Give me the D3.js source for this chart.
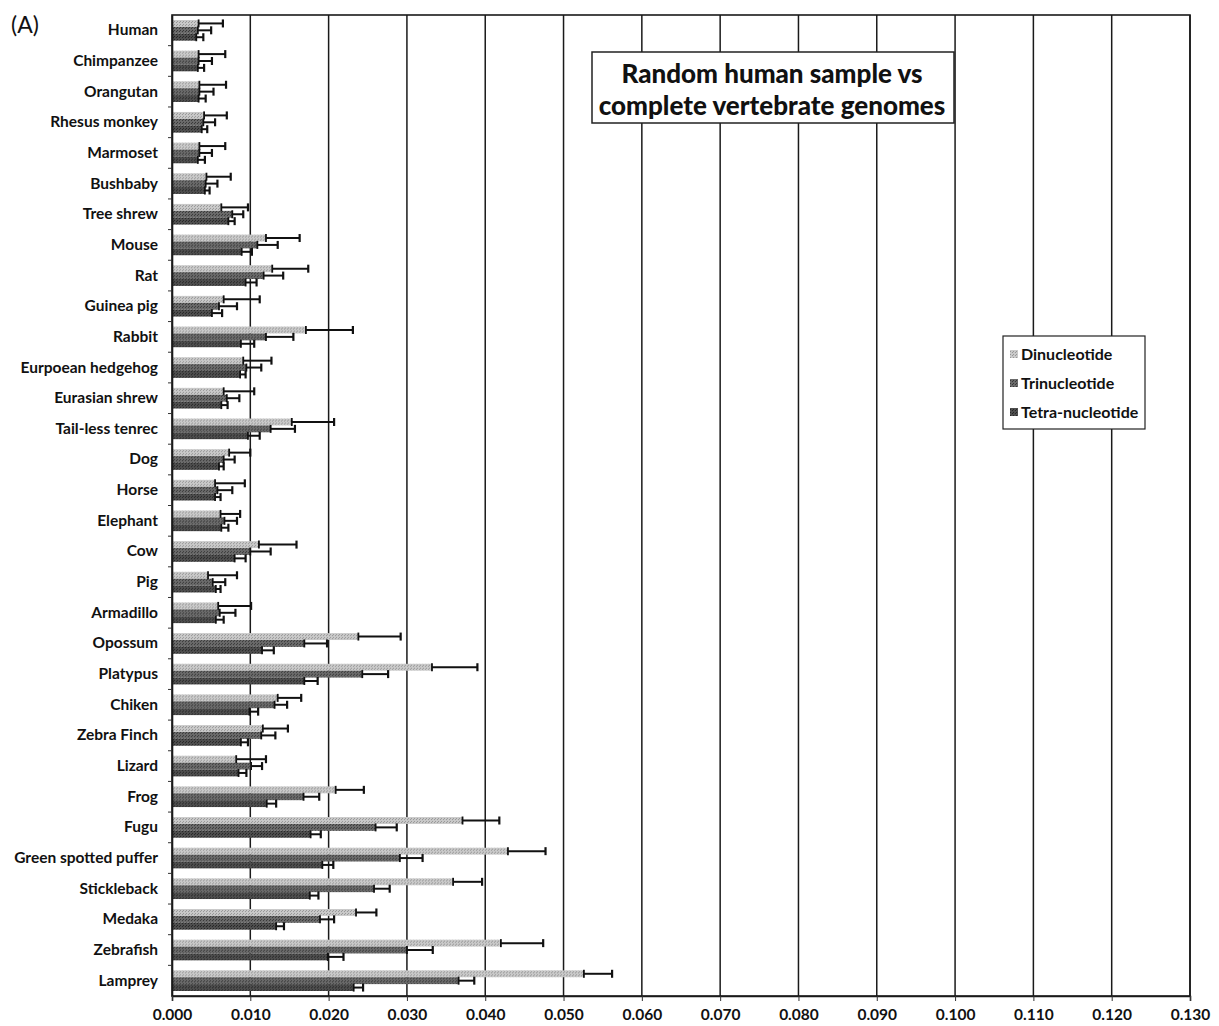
<!DOCTYPE html>
<html>
<head>
<meta charset="utf-8">
<script src="https://cdn.jsdelivr.net/npm/d3@7/dist/d3.min.js"></script>
<style>
  html, body { margin: 0; padding: 0; background: #fff; }
  svg { display: block; }
  text { font-family: Lato, "Liberation Sans", sans-serif; fill: #111; }
</style>
</head>
<body>
<svg id="chart" width="1219" height="1026"></svg>
<script>
// ---- data ----
const species = ["Human","Chimpanzee","Orangutan","Rhesus monkey","Marmoset","Bushbaby","Tree shrew","Mouse","Rat","Guinea pig","Rabbit","Eurpoean hedgehog","Eurasian shrew","Tail-less tenrec","Dog","Horse","Elephant","Cow","Pig","Armadillo","Opossum","Platypus","Chiken","Zebra Finch","Lizard","Frog","Fugu","Green spotted puffer","Stickleback","Medaka","Zebrafish","Lamprey"];
const seriesNames = ["Dinucleotide","Trinucleotide","Tetra-nucleotide"];
const dinucleotide    = [0.0034,0.0034,0.0035,0.0041,0.0035,0.0044,0.0063,0.0120,0.0128,0.0066,0.0171,0.0091,0.0066,0.0153,0.0073,0.0055,0.0062,0.0111,0.0046,0.0059,0.0238,0.0332,0.0135,0.0116,0.0082,0.0209,0.0371,0.0429,0.0359,0.0235,0.0420,0.0526];
const dinucleotideErr = [0.0031,0.0034,0.0034,0.0029,0.0033,0.0031,0.0034,0.0043,0.0046,0.0046,0.0060,0.0036,0.0039,0.0054,0.0027,0.0038,0.0025,0.0048,0.0037,0.0042,0.0054,0.0058,0.0030,0.0032,0.0038,0.0036,0.0047,0.0048,0.0037,0.0026,0.0054,0.0036];
const trinucleotide    = [0.0033,0.0034,0.0035,0.0040,0.0035,0.0043,0.0077,0.0109,0.0117,0.0060,0.0120,0.0095,0.0070,0.0126,0.0066,0.0058,0.0067,0.0100,0.0052,0.0061,0.0169,0.0243,0.0131,0.0114,0.0101,0.0168,0.0260,0.0291,0.0258,0.0189,0.0300,0.0366];
const trinucleotideErr = [0.0017,0.0017,0.0018,0.0015,0.0016,0.0015,0.0014,0.0026,0.0025,0.0023,0.0035,0.0019,0.0016,0.0031,0.0014,0.0019,0.0016,0.0026,0.0016,0.0020,0.0029,0.0033,0.0016,0.0018,0.0014,0.0020,0.0027,0.0029,0.0020,0.0018,0.0033,0.0020];
const tetranucleotide    = [0.0031,0.0033,0.0034,0.0038,0.0033,0.0042,0.0072,0.0089,0.0094,0.0051,0.0088,0.0087,0.0063,0.0097,0.0060,0.0055,0.0063,0.0080,0.0056,0.0056,0.0115,0.0169,0.0099,0.0088,0.0085,0.0121,0.0177,0.0192,0.0176,0.0133,0.0199,0.0232];
const tetranucleotideErr = [0.0009,0.0008,0.0009,0.0007,0.0009,0.0006,0.0008,0.0013,0.0014,0.0013,0.0017,0.0007,0.0008,0.0015,0.0006,0.0007,0.0009,0.0014,0.0006,0.0010,0.0015,0.0017,0.0011,0.0009,0.0010,0.0012,0.0013,0.0014,0.0011,0.0010,0.0020,0.0012];
const xTicks = [0,0.01,0.02,0.03,0.04,0.05,0.06,0.07,0.08,0.09,0.10,0.11,0.12,0.13];
const titleLines = ["Random human sample vs","complete vertebrate genomes"];
const panelLabel = "(A)";

// ---- build ----
const svg = d3.select("#chart");
const L = 172, R = 1190, T = 15, B = 996;
const x = d3.scaleLinear().domain([0, 0.13]).range([L, R]);
const y0 = d3.scaleBand().domain(species).range([T, B]);
const y1 = d3.scaleBand().domain(seriesNames).range([5, y0.bandwidth() - 5]);

// patterns (halftone-like texture)
const defs = svg.append("defs");
function pat(id, base, dot) {
  const p = defs.append("pattern").attr("id", id).attr("width", 3).attr("height", 3).attr("patternUnits", "userSpaceOnUse");
  p.append("rect").attr("width", 3).attr("height", 3).attr("fill", base);
  p.append("rect").attr("x", 0).attr("y", 0).attr("width", 1).attr("height", 1).attr("fill", dot);
  p.append("rect").attr("x", 2).attr("y", 1).attr("width", 1).attr("height", 1).attr("fill", dot);
}
pat("p0", "#c9c9c9", "#979797");
pat("p1", "#6a6a6a", "#383838");
pat("p2", "#4e4e4e", "#262626");
const fillFor = d3.scaleOrdinal().domain(seriesNames).range(["url(#p0)", "url(#p1)", "url(#p2)"]);

const data = species.map((s, i) => ({
  species: s,
  vals: [
    { key: seriesNames[0], v: dinucleotide[i], e: dinucleotideErr[i] },
    { key: seriesNames[1], v: trinucleotide[i], e: trinucleotideErr[i] },
    { key: seriesNames[2], v: tetranucleotide[i], e: tetranucleotideErr[i] }
  ]
}));

// gridlines
svg.append("g").selectAll("line").data(xTicks.slice(1)).join("line")
  .attr("x1", d => x(d)).attr("x2", d => x(d))
  .attr("y1", T).attr("y2", B)
  .attr("stroke", "#1a1a1a").attr("stroke-width", 1.5);

// bars
const groups = svg.append("g").selectAll("g").data(data).join("g")
  .attr("transform", d => `translate(0,${y0(d.species)})`);
groups.selectAll("rect").data(d => d.vals).join("rect")
  .attr("x", x(0)).attr("y", d => y1(d.key))
  .attr("width", d => x(d.v) - x(0)).attr("height", y1.bandwidth())
  .attr("fill", d => fillFor(d.key));

// error bars
const eb = groups.selectAll("g.err").data(d => d.vals).join("g").attr("class", "err");
const capH = 8;
eb.append("line")
  .attr("x1", d => x(d.v)).attr("x2", d => x(d.v + d.e))
  .attr("y1", d => y1(d.key) + y1.bandwidth() / 2).attr("y2", d => y1(d.key) + y1.bandwidth() / 2)
  .attr("stroke", "#111").attr("stroke-width", 2);
eb.append("line")
  .attr("x1", d => x(d.v + d.e)).attr("x2", d => x(d.v + d.e))
  .attr("y1", d => y1(d.key) + y1.bandwidth() / 2 - capH / 2).attr("y2", d => y1(d.key) + y1.bandwidth() / 2 + capH / 2)
  .attr("stroke", "#111").attr("stroke-width", 2.2);
eb.append("line")
  .attr("x1", d => x(d.v)).attr("x2", d => x(d.v))
  .attr("y1", d => y1(d.key) + y1.bandwidth() / 2 - capH / 2).attr("y2", d => y1(d.key) + y1.bandwidth() / 2 + capH / 2)
  .attr("stroke", "#111").attr("stroke-width", 1.8);

// frame
svg.append("rect").attr("x", L).attr("y", T).attr("width", R - L).attr("height", B - T)
  .attr("fill", "none").attr("stroke", "#1a1a1a").attr("stroke-width", 1.6);

// y axis
const yAxis = svg.append("g").attr("transform", `translate(${L},0)`)
  .call(d3.axisLeft(y0).tickSize(0).tickPadding(14));
yAxis.select(".domain").attr("stroke", "#1a1a1a").attr("stroke-width", 1.6);
yAxis.selectAll("text").attr("font-size", 15.5).attr("font-weight", "bold").attr("font-family", "Lato, sans-serif").attr("fill", "#111");
// band boundary ticks
svg.append("g").selectAll("line").data(species.slice(1)).join("line")
  .attr("x1", L - 4).attr("x2", L)
  .attr("y1", d => y0(d)).attr("y2", d => y0(d))
  .attr("stroke", "#333").attr("stroke-width", 1);

// x axis
const xAxis = svg.append("g").attr("transform", `translate(0,${B})`)
  .call(d3.axisBottom(x).tickValues(xTicks).tickFormat(d3.format(".3f")).tickSize(5).tickPadding(8));
xAxis.select(".domain").attr("stroke", "#1a1a1a").attr("stroke-width", 1.6);
xAxis.selectAll("line").attr("stroke", "#333");
xAxis.selectAll("text").attr("font-size", 15.5).attr("font-weight", "bold").attr("font-family", "Lato, sans-serif").attr("fill", "#111");

// panel label
svg.append("text").attr("x", 11).attr("y", 33).attr("font-size", 23).text(panelLabel);

// title box
const tb = svg.append("g");
tb.append("rect").attr("x", 592).attr("y", 52).attr("width", 362).attr("height", 71)
  .attr("fill", "#fff").attr("stroke", "#222").attr("stroke-width", 1.5);
tb.selectAll("text").data(titleLines).join("text")
  .attr("x", 772).attr("y", (d, i) => 83 + i * 32)
  .attr("text-anchor", "middle").attr("font-size", 26).attr("font-weight", "900")
  .text(d => d);

// legend
const lg = svg.append("g");
lg.append("rect").attr("x", 1003).attr("y", 336).attr("width", 142).attr("height", 93)
  .attr("fill", "#fff").attr("stroke", "#222").attr("stroke-width", 1.2);
const li = lg.selectAll("g.item").data(seriesNames).join("g").attr("class", "item")
  .attr("transform", (d, i) => `translate(1010,${354 + i * 29})`);
li.append("rect").attr("x", 0).attr("y", -4).attr("width", 8).attr("height", 8).attr("fill", d => fillFor(d));
li.append("text").attr("x", 11).attr("y", 6).attr("font-size", 16).attr("font-weight", "bold").text(d => d);
</script>
</body>
</html>
